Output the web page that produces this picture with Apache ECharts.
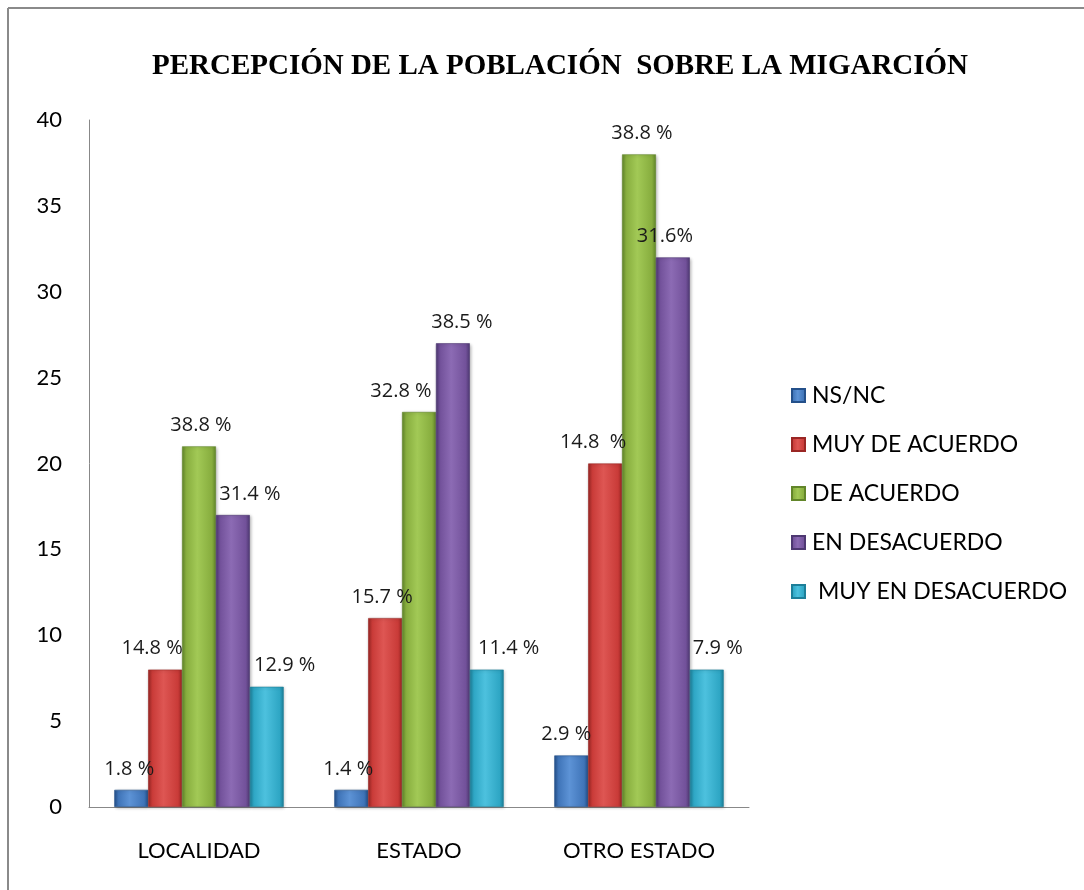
<!DOCTYPE html>
<html>
<head>
<meta charset="utf-8">
<script src="https://cdn.jsdelivr.net/npm/echarts@6/dist/echarts.min.js"></script>
<style>
html,body{margin:0;padding:0;background:#fff;}
#c{width:1084px;height:890px;}
</style>
</head>
<body>
<div id="c"></div>
<script>
const categories = ['LOCALIDAD', 'ESTADO', 'OTRO ESTADO'];
const seriesNames = ['NS/NC', 'MUY DE ACUERDO', 'DE ACUERDO', 'EN DESACUERDO', ' MUY EN DESACUERDO'];
const nsnc          = [1, 1, 3];
const muyDeAcuerdo  = [8, 11, 20];
const deAcuerdo     = [21, 23, 38];
const enDesacuerdo  = [17, 27, 32];
const muyEnDesac    = [7, 8, 8];
const labelsNsnc    = ['1.8 %', '1.4 %', '2.9 %'];
const labelsMuyDe   = ['14.8 %', '15.7 %', '14.8  %'];
const labelsDe      = ['38.8 %', '32.8 %', '38.8 %'];
const labelsEnDes   = ['31.4 %', '38.5 %', '31.6%'];
const labelsMuyEn   = ['12.9 %', '11.4 %', '7.9 %'];
const yTicks = [0, 5, 10, 15, 20, 25, 30, 35, 40];

const values = [nsnc, muyDeAcuerdo, deAcuerdo, enDesacuerdo, muyEnDesac];
const labels = [labelsNsnc, labelsMuyDe, labelsDe, labelsEnDes, labelsMuyEn];

// styling (not data)
const palette = [
  ['#24508a', '#3f74b8', '#5d93d6'],
  ['#9a2624', '#c93b38', '#de5653'],
  ['#62862a', '#87ad3e', '#a2c956'],
  ['#4e3872', '#72519a', '#8c6bb4'],
  ['#1d7f99', '#2ea6c4', '#4dc1de']
];
const labelDx = [
  [-2, -3, -5],
  [-13, -3, -12],
  [2, -18, 3],
  [17, 9, -8],
  [18, 22, 11]
];

function grad(p) {
  return new echarts.graphic.LinearGradient(0, 0, 1, 0, [
    {offset: 0, color: p[0]},
    {offset: 0.12, color: p[1]},
    {offset: 0.45, color: p[2]},
    {offset: 0.88, color: p[1]},
    {offset: 1, color: p[0]}
  ]);
}

const series = seriesNames.map((name, si) => ({
  name: name,
  type: 'bar',
  barGap: '0%',
  barCategoryGap: '23%',
  itemStyle: {
    color: grad(palette[si]),
    borderColor: palette[si][0],
    borderWidth: 0.6,
    shadowColor: 'rgba(0,0,0,0.25)',
    shadowBlur: 3,
    shadowOffsetX: 1,
    shadowOffsetY: 1
  },
  label: {
    show: true,
    position: 'top',
    distance: 11,
    fontFamily: 'Open Sans',
    fontSize: 20,
    color: '#1a1a1a'
  },
  data: values[si].map((v, ci) => ({
    value: v,
    label: {
      offset: [labelDx[si][ci], 0],
      formatter: labels[si][ci]
    }
  }))
}));

const chart = echarts.init(document.getElementById('c'));
chart.setOption({
  backgroundColor: '#fff',
  animation: false,
  title: {
    text: 'PERCEPCIÓN DE LA POBLACIÓN  SOBRE LA MIGARCIÓN',
    left: 555,
    textAlign: 'center',
    top: 47,
    textStyle: {
      fontFamily: 'Liberation Serif',
      fontWeight: 'bold',
      fontSize: 29,
      color: '#000'
    }
  },
  legend: {
    orient: 'vertical',
    left: 786,
    top: 379,
    itemWidth: 13,
    itemHeight: 13,
    itemGap: 26,
    icon: 'rect',
    textStyle: {
      fontFamily: 'Lato',
      fontSize: 23,
      color: '#000',
      padding: [0, 0, 0, 2]
    },
    data: seriesNames
  },
  grid: {
    left: 89,
    right: 335,
    top: 120,
    bottom: 83,
    containLabel: false
  },
  xAxis: {
    type: 'category',
    data: categories,
    axisLine: {lineStyle: {color: '#888', width: 1}},
    axisTick: {show: false},
    axisLabel: {
      margin: 33,
      fontFamily: 'Lato',
      fontSize: 22,
      color: '#000'
    }
  },
  yAxis: {
    type: 'value',
    min: yTicks[0],
    max: yTicks[yTicks.length - 1],
    interval: yTicks[1] - yTicks[0],
    axisLine: {show: true, lineStyle: {color: '#888', width: 1}},
    axisTick: {show: false},
    splitLine: {show: false},
    axisLabel: {
      margin: 27,
      fontFamily: 'Lato',
      fontSize: 22,
      color: '#000'
    }
  },
  graphic: [
    {type: 'line', shape: {x1: 8, y1: 8, x2: 1084, y2: 8}, style: {stroke: '#8a8a8a', lineWidth: 2}},
    {type: 'line', shape: {x1: 8, y1: 8, x2: 8, y2: 890}, style: {stroke: '#8a8a8a', lineWidth: 2}}
  ],
  series: series
});
</script>
</body>
</html>
